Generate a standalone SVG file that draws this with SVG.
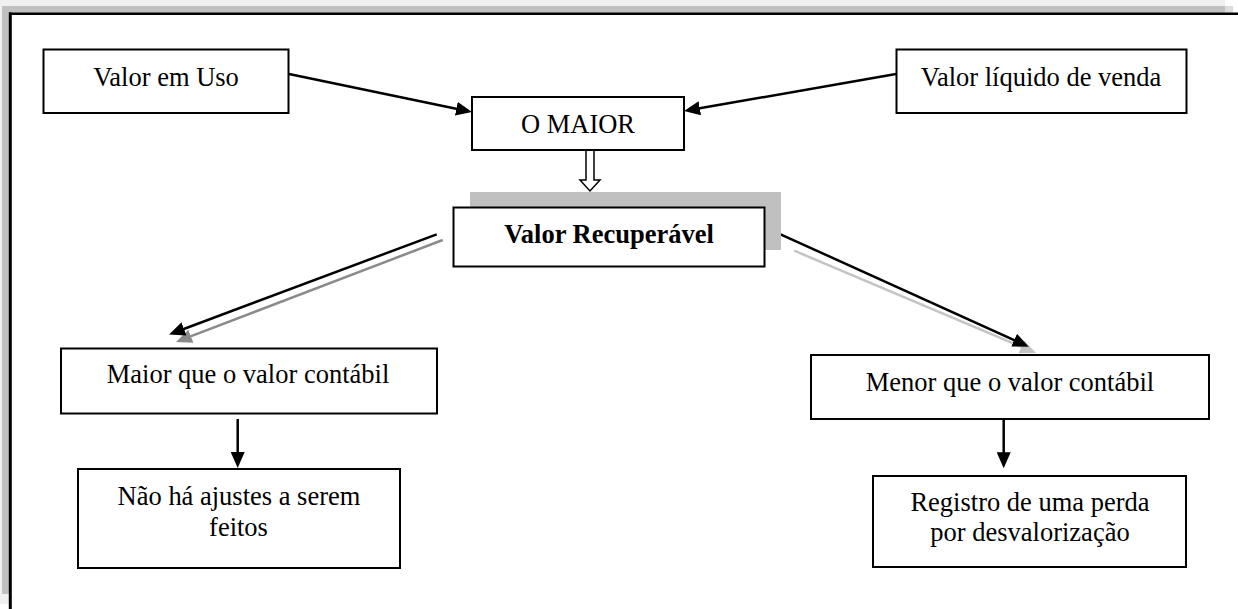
<svg xmlns="http://www.w3.org/2000/svg" width="1238" height="609" viewBox="0 0 1238 609">
<style>
  .box { fill: #ffffff; stroke: #000000; stroke-width: 2; }
  text { font-family: 'Liberation Serif', 'Times New Roman', Times, 'DejaVu Serif', serif; font-size: 26.5px; fill: #000000; text-anchor: middle; }
  .b { font-weight: bold; }
  .ln { fill: none; stroke: #000000; stroke-width: 2.5; }
  .g1 { fill: none; stroke: #8a8a8a; stroke-width: 2.5; }
  .g2 { fill: none; stroke: #c4c4c4; stroke-width: 2.5; }
</style>
<defs>
  <marker id="ah" markerUnits="userSpaceOnUse" markerWidth="16" markerHeight="14" refX="6" refY="7" orient="auto">
    <path d="M0,0 L16,7 L0,14 z" fill="#000000"/>
  </marker>
  <marker id="ahg1" markerUnits="userSpaceOnUse" markerWidth="16" markerHeight="14" refX="6" refY="7" orient="auto">
    <path d="M0,0 L16,7 L0,14 z" fill="#8a8a8a"/>
  </marker>
  <marker id="ahg2" markerUnits="userSpaceOnUse" markerWidth="16" markerHeight="14" refX="6" refY="7" orient="auto">
    <path d="M0,0 L16,7 L0,14 z" fill="#c4c4c4"/>
  </marker>
</defs>
<rect x="0" y="0" width="1238" height="609" fill="#ffffff"/>
<g id="frame">
  <rect x="0" y="0" width="1225" height="6" fill="#f0f0f0"/>
  <rect x="0" y="0" width="2" height="604" fill="#f0f0f0"/>
  <rect x="2" y="594" width="7" height="10" fill="#f0f0f0"/>
  <rect x="2" y="6" width="1223" height="7" fill="#c0c0c0"/>
  <rect x="1225" y="6" width="8" height="7" fill="#dcdcdc"/>
  <rect x="2" y="6" width="7" height="588" fill="#c0c0c0"/>
  <line x1="9" y1="13.8" x2="1238" y2="13.8" stroke="#000000" stroke-width="2.5"/>
  <line x1="10.3" y1="12.5" x2="10.3" y2="609" stroke="#000000" stroke-width="3"/>
</g>
<g id="connectors">
  <line class="ln" x1="289" y1="74" x2="462.2" y2="110" marker-end="url(#ah)"/>
  <line class="ln" x1="896" y1="74" x2="693.9" y2="109.3" marker-end="url(#ah)"/>
  <polygon points="586,150 594,150 594,180 600,180 590,191 580,180 586,180" fill="#ffffff" stroke="#000000" stroke-width="1.5"/>
  <line class="g1" x1="442.7" y1="240" x2="185.3" y2="338.4" marker-end="url(#ahg1)"/>
  <line class="ln" x1="436.7" y1="234.3" x2="178.4" y2="331" marker-end="url(#ah)"/>
  <line class="g2" x1="794.3" y1="250.7" x2="1026.8" y2="349.1" marker-end="url(#ahg2)"/>
  <line class="ln" x1="778.3" y1="233.3" x2="1019.6" y2="342.6" marker-end="url(#ah)"/>
  <line class="ln" x1="237.7" y1="419" x2="237.7" y2="458" marker-end="url(#ah)"/>
  <line class="ln" x1="1003.7" y1="420" x2="1003.7" y2="458.3" marker-end="url(#ah)"/>
</g>
<g id="valor-em-uso">
  <rect class="box" x="43.5" y="49.5" width="245" height="63.5"/>
  <text x="166" y="81.13" transform="scale(1,1.06)">Valor em Uso</text>
</g>
<g id="valor-liquido">
  <rect class="box" x="896.5" y="49.5" width="290" height="63.5"/>
  <text x="1041" y="81.13" transform="scale(1,1.06)">Valor líquido de venda</text>
</g>
<g id="o-maior">
  <rect class="box" x="472" y="97" width="212" height="53"/>
  <text x="578" y="125.19" transform="scale(1,1.06)">O MAIOR</text>
</g>
<g id="valor-recuperavel">
  <rect x="470" y="192" width="311" height="58" fill="#c0c0c0"/>
  <rect class="box" x="453.5" y="207.5" width="311" height="59"/>
  <text class="b" x="609" y="229.53" transform="scale(1,1.06)">Valor Recuperável</text>
</g>
<g id="maior-que">
  <rect class="box" x="61" y="348.5" width="376" height="65"/>
  <text x="248" y="361.32" transform="scale(1,1.06)">Maior que o valor contábil</text>
</g>
<g id="menor-que">
  <rect class="box" x="811" y="355" width="398" height="64"/>
  <text x="1010" y="368.87" transform="scale(1,1.06)">Menor que o valor contábil</text>
</g>
<g id="nao-ha">
  <rect class="box" x="78" y="469" width="322" height="99"/>
  <text x="239" y="476.13" transform="scale(1,1.06)">Não há ajustes a serem</text>
  <text x="238.5" y="505.38" transform="scale(1,1.06)">feitos</text>
</g>
<g id="registro">
  <rect class="box" x="873" y="476" width="313" height="91"/>
  <text x="1030" y="481.79" transform="scale(1,1.06)">Registro de uma perda</text>
  <text x="1030" y="510.09" transform="scale(1,1.06)">por desvalorização</text>
</g>
</svg>
